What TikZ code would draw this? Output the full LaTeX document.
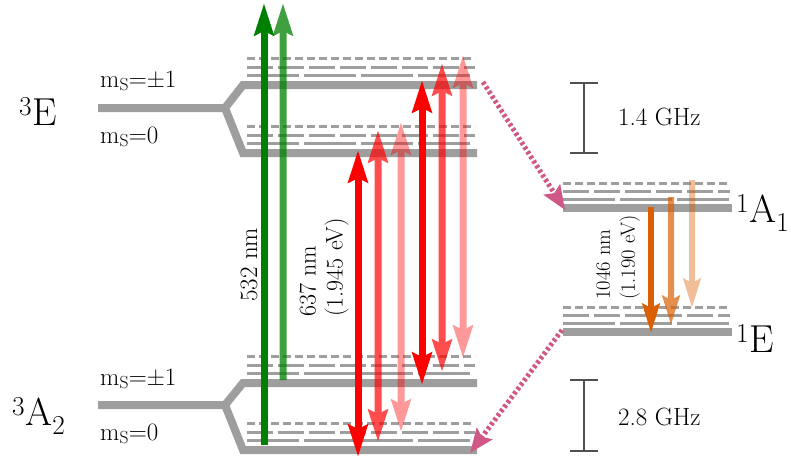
\documentclass[tikz,border=0pt]{standalone}
\usetikzlibrary{arrows.meta}
\definecolor{lvl}{RGB}{158,158,158}
\definecolor{dgreen}{RGB}{0,128,0}
\definecolor{nvred}{RGB}{255,0,0}
\definecolor{nvorange}{RGB}{217,95,2}
\definecolor{pinkd}{RGB}{208,88,135}
\definecolor{barc}{RGB}{80,80,80}
\begin{document}
\begin{tikzpicture}[x=1pt,y=-1pt,
  level/.style={draw=lvl,line width=8pt},
  subA/.style={draw=lvl,line width=3pt,dash pattern=on 8pt off 4pt},
  subB/.style={draw=lvl,line width=3pt,dash pattern=on 26pt off 5pt},
  subC/.style={draw=lvl,line width=3pt,dash pattern=on 52pt off 5pt},
  tipbig/.tip={Stealth[length=32pt,width=19pt,inset=4pt]},
  tipmid/.tip={Stealth[length=29pt,width=17pt,inset=4pt]},
  tippink/.tip={Stealth[length=24pt,width=19pt,inset=4pt]},
  beam/.style={line width=7pt,-tipbig},
  dbeam/.style={line width=7pt,tipbig-tipbig},
  obeam/.style={line width=6pt,-tipmid},
  isc/.style={draw=pinkd,line width=5pt,dash pattern=on 3pt off 2.5pt,-tippink},
  scalebar/.style={draw=barc,line width=2.5pt},
  fade/.style={transparency group,opacity=#1},
  mlab/.style={anchor=base west,inner sep=0pt,font=\fontsize{25}{29}\selectfont},
  biglab/.style={anchor=base west,inner sep=0pt,font=\fontsize{39}{42}\selectfont},
  rotlab/.style={rotate=90,anchor=west,inner sep=0pt,align=left},
  glab/.style={anchor=base west,inner sep=0pt,font=\fontsize{25}{29}\selectfont}
]
\useasboundingbox (0,0) rectangle (791,460);

% ---- main levels ----
\draw[level] (98,108) -- (225,108) -- (243,85) -- (477,85);
\draw[level] (225,108) -- (243,153) -- (477,153);
\draw[level] (98,405) -- (225,405) -- (243,383) -- (477,383);
\draw[level] (225,405) -- (243,450) -- (477,450);
\draw[level] (563,208) -- (732,208);
\draw[level] (563,332) -- (732,332);

% ---- vibronic sublevels ----
\foreach \s in {85,153,383,450}{
  \draw[subA] (247,\s-27) -- (475,\s-27);
  \draw[subB] (247,\s-18) -- (475,\s-18);
  \draw[subC] (247,\s-10) -- (475,\s-10);
}
\foreach \s in {208,332}{
  \draw[subA] (563,\s-25) -- (730,\s-25);
  \draw[subB] (563,\s-17) -- (730,\s-17);
  \draw[subC] (563,\s-9) -- (730,\s-9);
}

% ---- labels ----
\node[biglab] (lE3) at (19,125) {\textsuperscript{3}E};
\node[biglab] (lA3) at (12,425) {\textsuperscript{3}A\textsubscript{2}};
\node[biglab] (lA1) at (736,222) {\textsuperscript{1}A\textsubscript{1}};
\node[biglab] (lE1) at (736,352) {\textsuperscript{1}E};
\node[mlab] (m1) at (100,87) {m\textsubscript{S}=±1};
\node[mlab] (m2) at (100,143) {m\textsubscript{S}=0};
\node[mlab] (m3) at (100,385) {m\textsubscript{S}=±1};
\node[mlab] (m4) at (100,440) {m\textsubscript{S}=0};

% ---- green excitation ----
\coordinate (g1s) at (264,445); \coordinate (g1e) at (264,3);
\coordinate (g2s) at (283,380); \coordinate (g2e) at (283,3);
\draw[beam,draw=dgreen,fill=dgreen] (g1s) -- (g1e);
\begin{scope}[fade=0.75]
\draw[beam,draw=dgreen,fill=dgreen] (g2s) -- (g2e);
\end{scope}

% ---- red ZPL transitions ----
\coordinate (r1s) at (358,457); \coordinate (r1e) at (358,150);
\coordinate (r2s) at (378,442); \coordinate (r2e) at (378,130);
\coordinate (r3s) at (401,432); \coordinate (r3e) at (401,122);
\coordinate (r4s) at (422,385); \coordinate (r4e) at (422,80);
\coordinate (r5s) at (442,372); \coordinate (r5e) at (442,63);
\coordinate (r6s) at (463,358); \coordinate (r6e) at (463,55);
\draw[dbeam,draw=nvred,fill=nvred] (r1s) -- (r1e);
\begin{scope}[fade=0.7]
\draw[dbeam,draw=nvred,fill=nvred] (r2s) -- (r2e);
\end{scope}
\begin{scope}[fade=0.4]
\draw[dbeam,draw=nvred,fill=nvred] (r3s) -- (r3e);
\end{scope}
\draw[dbeam,draw=nvred,fill=nvred] (r4s) -- (r4e);
\begin{scope}[fade=0.7]
\draw[dbeam,draw=nvred,fill=nvred] (r5s) -- (r5e);
\end{scope}
\begin{scope}[fade=0.4]
\draw[dbeam,draw=nvred,fill=nvred] (r6s) -- (r6e);
\end{scope}

% ---- orange IR transitions ----
\coordinate (o1s) at (651,207); \coordinate (o1e) at (651,333);
\coordinate (o2s) at (671,197); \coordinate (o2e) at (671,325);
\coordinate (o3s) at (692,180); \coordinate (o3e) at (692,308);
\draw[obeam,draw=nvorange,fill=nvorange] (o1s) -- (o1e);
\begin{scope}[fade=0.7]
\draw[obeam,draw=nvorange,fill=nvorange] (o2s) -- (o2e);
\end{scope}
\begin{scope}[fade=0.4]
\draw[obeam,draw=nvorange,fill=nvorange] (o3s) -- (o3e);
\end{scope}

% ---- intersystem crossings ----
\coordinate (p1s) at (483,82); \coordinate (p1e) at (565,210);
\coordinate (p2s) at (562,330); \coordinate (p2e) at (470,453);
\draw[isc] (p1s) -- (p1e);
\draw[isc] (p2s) -- (p2e);

% ---- wavelength labels ----
\node[rotlab,font=\fontsize{25}{27}\selectfont] (w1) at (249,302) {532 nm};
\node[rotlab,font=\fontsize{24}{27}\selectfont] (w2) at (324,317) {637 nm\\(1.945 eV)};
\node[rotlab,font=\fontsize{20.5}{25}\selectfont] (w3) at (618,300) {1046 nm\\(1.190 eV)};

% ---- scale bars ----
\coordinate (b1t) at (584,83); \coordinate (b1b) at (584,153);
\coordinate (b2t) at (584,380); \coordinate (b2b) at (584,451);
\draw[scalebar] (b1t) -- (b1b);
\draw[scalebar] ([xshift=-14pt]b1t) -- ([xshift=14pt]b1t);
\draw[scalebar] ([xshift=-14pt]b1b) -- ([xshift=14pt]b1b);
\draw[scalebar] (b2t) -- (b2b);
\draw[scalebar] ([xshift=-14pt]b2t) -- ([xshift=14pt]b2t);
\draw[scalebar] ([xshift=-14pt]b2b) -- ([xshift=14pt]b2b);
\node[glab] (s1) at (618,125) {1.4 GHz};
\node[glab] (s2) at (618,425) {2.8 GHz};
\end{tikzpicture}
\end{document}
